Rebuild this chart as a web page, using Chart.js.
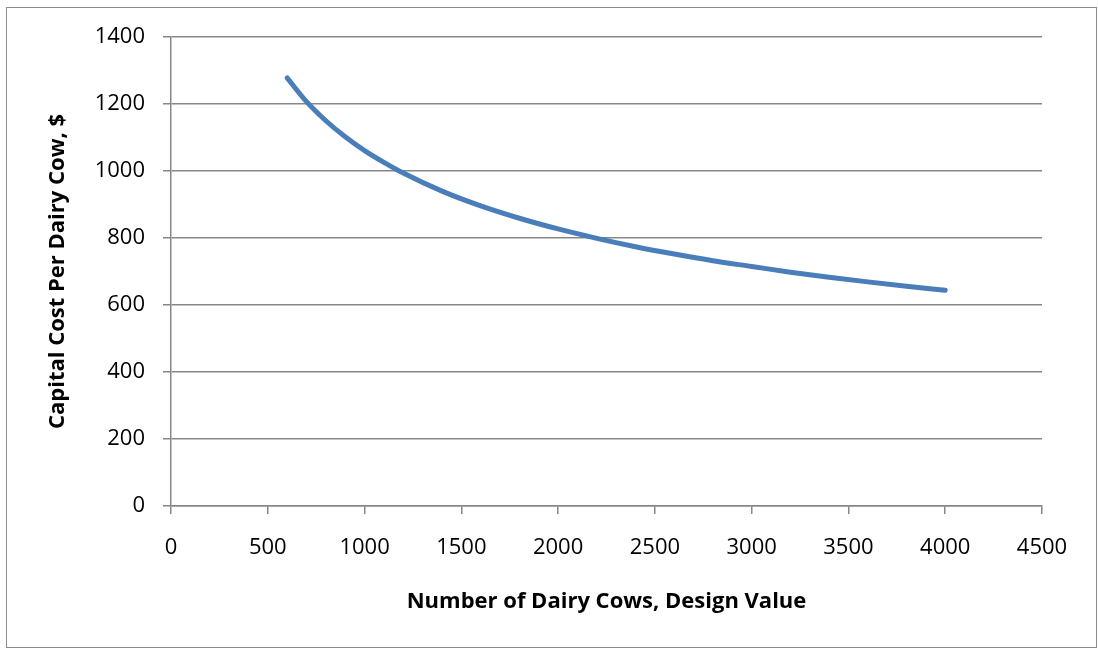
<!DOCTYPE html>
<html>
<head>
<meta charset="utf-8">
<script src="https://cdn.jsdelivr.net/npm/chart.js@4/dist/chart.umd.min.js"></script>
<style>
  html, body { margin: 0; padding: 0; background: #fff; }
  #wrap { width: 1098px; height: 649px; position: relative; }
</style>
</head>
<body>
<div id="wrap"><canvas id="c" width="1098" height="649"></canvas></div>
<script>
// Herd size (design value) and capital cost per cow, $
const herdSizes = [600, 700, 800, 900, 1000, 1100, 1200, 1400, 1600, 1800, 2000, 2200, 2400, 2600, 2800, 3000, 3200, 3400, 3600, 3800, 4000];
const costPerCow = [1278, 1207, 1150, 1102, 1061, 1026, 994, 940, 896, 859, 827, 799, 774, 752, 732, 715, 698, 683, 669, 656, 644];

const xTitle = 'Number of Dairy Cows, Design Value';
const yTitle = 'Capital Cost Per Dairy Cow, $';

const FONT = '"Open Sans", "Liberation Sans", sans-serif';
const GRID = '#878787';

// Thin gray frame round the whole figure
const framePlugin = {
  id: 'frame',
  afterDraw(chart) {
    const ctx = chart.ctx;
    ctx.save();
    ctx.strokeStyle = '#8c8c8c';
    ctx.lineWidth = 1;
    ctx.strokeRect(6.5, 7.5, 1090, 640);
    ctx.restore();
  }
};

new Chart(document.getElementById('c'), {
  type: 'line',
  data: {
    datasets: [{
      data: herdSizes.map((x, i) => ({ x, y: costPerCow[i] })),
      borderColor: '#4a7ebb',
      borderWidth: 5,
      borderCapStyle: 'round',
      pointRadius: 0,
      fill: false,
      cubicInterpolationMode: 'monotone'
    }]
  },
  options: {
    responsive: false,
    animation: false,
    layout: { padding: { top: 37, right: 56, left: 0, bottom: 0 } },
    plugins: { legend: { display: false }, tooltip: { enabled: false } },
    scales: {
      x: {
        type: 'linear',
        min: 0, max: 4500,
        ticks: { stepSize: 500, color: '#000', padding: 21, maxRotation: 0,
                 callback: v => String(v),
                 font: { family: FONT, size: 22, lineHeight: 1.2 } },
        grid: { drawOnChartArea: false, drawTicks: true, tickLength: 8, color: GRID, lineWidth: 1.5 },
        border: { color: GRID, width: 1.5 },
        title: { display: true, text: xTitle, color: '#000',
                 font: { family: FONT, size: 22, weight: 'bold', lineHeight: 1.2 },
                 padding: { top: 0, bottom: 34 } },
        afterFit(s) { s.height = 143; }
      },
      y: {
        min: 0, max: 1400,
        ticks: { stepSize: 200, color: '#000', padding: 18,
                 callback: v => String(v),
                 font: { family: FONT, size: 22, lineHeight: 1.2 } },
        grid: { color: GRID, lineWidth: 1.5, tickLength: 8 },
        border: { color: GRID, width: 1.5 },
        title: { display: true, text: yTitle, color: '#000',
                 font: { family: FONT, size: 22, weight: 'bold', lineHeight: 1.2 },
                 padding: { top: 45, bottom: 0 } },
        afterFit(s) { s.width = 171; }
      }
    }
  },
  plugins: [framePlugin]
});
</script>
</body>
</html>
